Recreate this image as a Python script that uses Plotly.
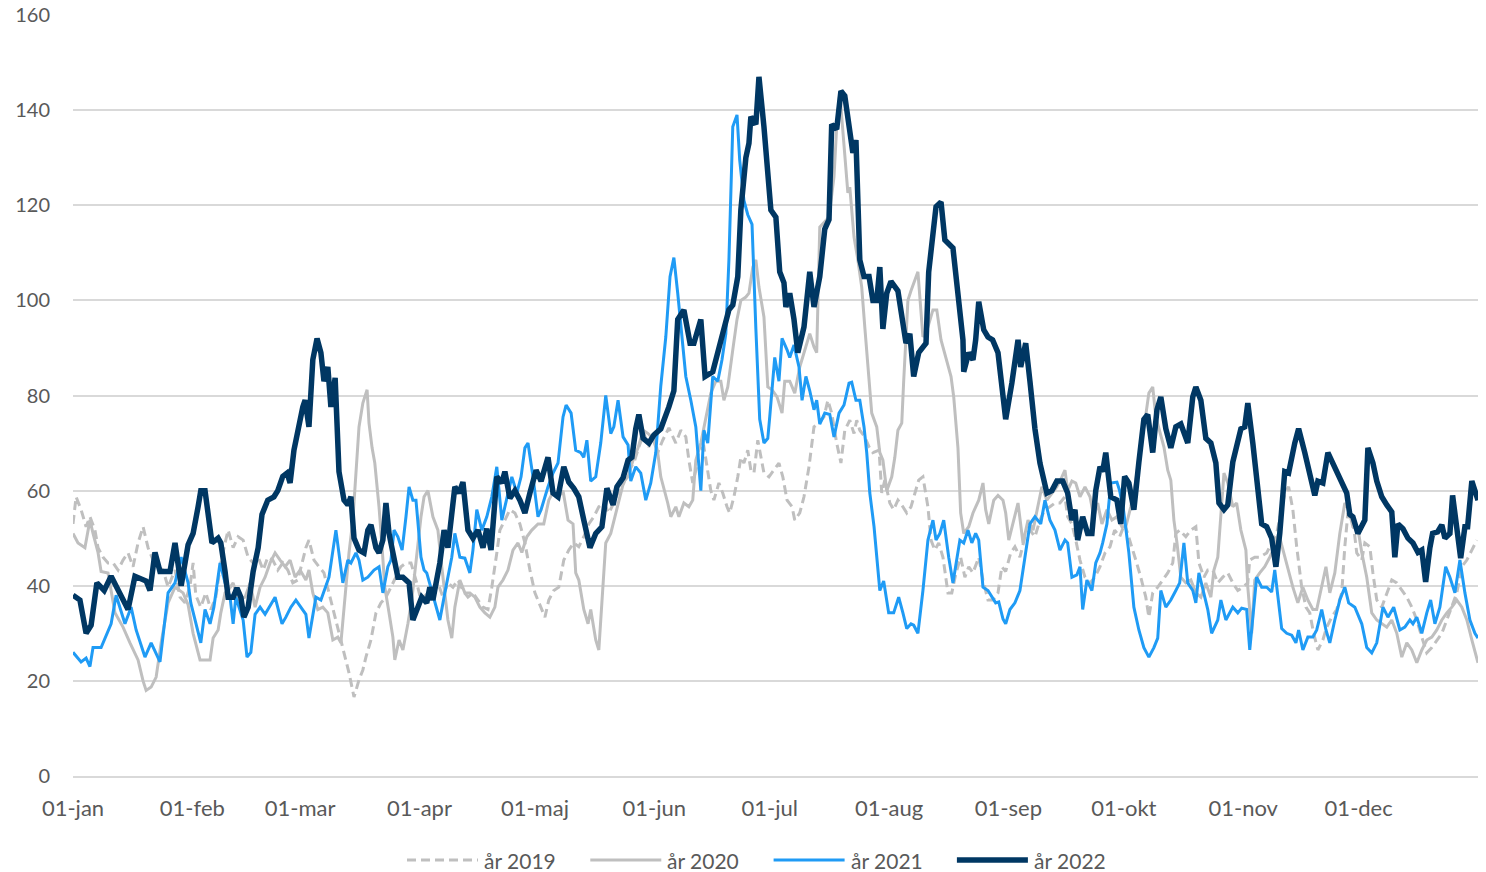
import plotly.graph_objects as go

# Day-of-year (0 = 1 January) and value pairs
SERIES_2019 = [(0,53),(0.8,58.7),(2.1,56),(3.4,52.4),(4.4,54.5),(5.7,51.7),(6.5,48),(7.8,46),(9.1,44.8),(10.4,44.8),(11.7,43.3),(13,45.4),(14.3,46.9),(15.6,44),(16.9,49),(18.2,52.4),(19.5,48),(20.8,45.4),(22.1,44),(23.4,43.3),(24.7,39.7),(26.5,43.3),(27.8,37.6),(29.1,36.4),(30.4,40),(31.2,44.8),(31.9,38),(33.2,35.5),(34.5,38.5),(35.8,35),(37.1,37.6),(38.4,44.8),(39.5,49),(40.3,51.7),(41.6,48),(42.9,50.3),(44.2,49.6),(45.5,46),(46.8,44.8),(48.1,46),(49.4,43.3),(50.6,46),(51.9,45.4),(53.2,43.3),(54.5,44.8),(55.8,43.3),(57.1,40.6),(58.4,41.2),(59.7,45.4),(60.5,48),(61.3,49.6),(62.6,45.4),(63.9,44),(65.2,42.7),(66.5,38.5),(67.8,34.3),(69.1,30),(70.4,25.9),(71.7,21.7),(73,16.6),(74.3,20.2),(75.3,22.3),(76.1,25),(77.4,28.6),(78.7,34.3),(80,36.4),(81.3,37.6),(82.6,39.7),(83.9,41.8),(85.2,44),(86.5,44.8),(87.8,44.8),(89.1,41.2),(90.4,37),(92.2,38.5),(93.5,39),(94.8,40.6),(96.1,37.6),(97.4,40.6),(98.7,39.7),(100,41.2),(101.3,39),(102.6,37.6),(103.9,38.5),(105.2,37),(106.5,35.5),(107.8,35),(108.8,39.7),(110.1,46.9),(110.9,51.7),(112.2,53.8),(113.5,56),(114.8,55.3),(116.1,53),(117.4,49),(118.7,43.3),(120,38.5),(121.6,35.5),(122.6,33.4),(123.6,37),(124.9,39),(126.2,39.7),(127.5,45.4),(128.8,47.5),(130.1,49),(131.4,48.2),(132.7,50.3),(134,53),(135.3,54.5),(136.6,56.6),(137.9,57.4),(139.2,55.3),(140.5,57.4),(141.8,60),(143.1,61.6),(144.4,64.3),(145.7,65.8),(147,69.2),(148.3,72),(149.6,69.2),(150.9,72),(151.9,68),(153.2,70.6),(154.8,73.2),(156.6,70),(157.9,72.7),(159.2,71.3),(160,66.4),(161,61.6),(161.8,64.3),(162.6,68.5),(163.9,69.2),(164.9,64.3),(165.7,60),(166.5,58),(167.8,61.6),(168.8,59.5),(169.9,56.6),(170.6,55.3),(171.7,58.7),(172.7,62.9),(173.5,67),(174.3,65.8),(175.3,68.5),(176.1,64.3),(176.9,63.7),(177.9,70.6),(178.7,67),(179.5,63.7),(180.8,62.9),(182.1,64.3),(183.4,65.8),(184.4,62.9),(185.5,58),(186.8,56.6),(187.5,53.8),(188.8,55.3),(189.9,58.7),(191.2,65),(192.5,73.4),(193.8,74.2),(195.1,75.5),(196.1,79),(197.1,76.3),(198.4,70),(199.5,65.8),(200.5,72.7),(201.8,74.8),(202.9,72),(203.6,74.8),(204.4,72.7),(205.7,71.3),(206.8,69.2),(207.8,68),(209.4,68.5),(210.1,59.5),(210.9,62.2),(212.2,57.4),(213.2,56),(214.3,58),(215.6,56.6),(216.6,55.3),(217.7,56.6),(218.7,59.5),(219.7,62.2),(220.8,62.9),(222.1,56.6),(222.9,49.6),(223.9,47.5),(224.9,49),(226,46),(227.3,38.5),(228.3,38.5),(229.4,42.7),(230.6,46),(231.7,41.8),(232.7,44),(233.8,42.7),(235.3,46),(236.4,41.2),(237.7,37),(239,37),(240.3,38.5),(241.3,44),(242.3,43),(243.6,46.9),(244.7,48.2),(246,46),(247.3,50.3),(248.6,51.7),(249.9,50.3),(251.2,53.8),(252.5,56),(253.8,56.6),(255.1,57.4),(256.4,57.4),(257.7,58.7),(258.4,54.5),(259.5,53),(260.5,49.6),(261.6,45.4),(262.9,41.8),(264.2,40.6),(265.5,41.8),(266.8,44),(268.1,46.9),(269.4,48.2),(270.6,51.7),(271.9,50.3),(273.2,53),(274.8,49),(276.1,45.4),(277.4,41.8),(278.7,37.6),(279.5,33.4),(280.5,38.5),(281.8,39.7),(283.1,41.2),(284.4,42.7),(285.7,44.8),(286.5,51),(287.5,51.7),(289.1,50.3),(290.4,51.7),(291.7,52.4),(292.5,44.8),(293.8,41.8),(294.8,43.3),(296.1,43.3),(297.4,40.6),(298.7,41.8),(300,42.7),(301.3,40.6),(302.6,39),(303.9,39.7),(305.2,40.6),(305.7,45.4),(307,46),(308.3,46),(310.1,46.9),(311.4,49),(312.7,51),(313.8,55.3),(314.8,59.5),(315.8,60.8),(316.9,56),(317.9,48.2),(319.2,39.7),(320.3,35.5),(321.3,34.3),(322.3,30),(323.4,26.5),(324.7,28.6),(325.7,31.3),(327,33.4),(328.3,35),(329.6,38.5),(330.4,48.2),(331.2,55.3),(332.5,53.8),(333.5,46.9),(334.8,45.4),(335.6,49),(336.9,48.2),(337.7,42.7),(338.7,37),(340,35.5),(341.3,38.5),(342.6,41.2),(343.9,40.6),(345.2,39),(346.5,37.6),(347.8,35.5),(349.1,32.8),(350.4,29.2),(351.7,25.9),(353,27),(354.3,28.6),(355.6,30),(356.9,32.8),(358.2,35.5),(359.5,38.5),(360.8,44),(362.1,45.4),(363.4,47.5),(364.7,49.6)]

SERIES_2020 = [(0,51),(1.3,49),(3.1,48),(4.4,53.8),(5.2,51),(6.5,47),(7.3,43),(9.1,42.7),(10.9,34.3),(13,31.3),(14.8,28),(16.9,24.4),(18.2,20),(19,18),(20.3,18.7),(21.6,20.8),(22.9,28),(24.7,36.4),(26.5,39.7),(28.6,38.5),(29.9,36),(31.2,30),(33,24.4),(34.5,24.4),(35.6,24.4),(36.4,29),(37.7,30.7),(38.4,34.3),(39.5,38.5),(40.3,39),(41.6,40.6),(42.9,37),(44.7,37.6),(46,40.6),(47.3,35.5),(48.6,39.7),(49.9,41.8),(51.2,44.8),(52.5,46.9),(53.8,45.4),(55.1,44),(56.4,45.4),(57.7,41.8),(59,43.3),(60.5,41.2),(61.3,43.3),(62.3,38.5),(63.6,35),(64.9,35.5),(66.2,34.3),(67.5,28.6),(68.8,29.2),(69.6,28),(70.9,39.7),(71.7,46.9),(72.7,53.8),(73.5,64.3),(74.3,73.4),(75.3,78.4),(76.4,81.2),(76.9,74.2),(77.7,69),(78.4,65.8),(79.5,56.6),(80.3,48),(81,39.7),(82.1,34.3),(83.1,29.2),(83.6,24.4),(84.7,28.6),(85.7,26.5),(87,32),(88.1,37.6),(89.1,45.4),(90.4,54.5),(91.2,58.7),(92.2,60),(93.5,54.5),(94.8,51.7),(95.8,44),(96.6,39),(97.4,32.8),(98.4,29),(99.2,35.5),(100.5,41.2),(101.8,38.5),(103.1,38.5),(104.4,37.6),(105.7,35.5),(107,34.3),(108.3,33.4),(109.6,35.5),(110.4,39.7),(111.7,41.2),(113,43.3),(114.3,47.5),(115.6,49),(116.6,47),(117.9,50.3),(119.2,51.7),(120.8,53),(122.3,53),(123.6,58),(124.9,60),(126.2,58.7),(127.3,60),(128.6,53.8),(129.9,53),(130.6,42.7),(131.4,41.2),(132.7,35),(133.8,32),(134.5,35),(135.8,28.6),(136.6,26.5),(137.7,39.7),(138.4,49),(139.7,51),(141,55.3),(142.3,60),(143.1,62),(144.2,62.9),(145.5,66.4),(146.8,69),(148.1,72.7),(149.4,72),(150.6,71),(151.9,68),(152.7,62.9),(154.5,57.4),(155.3,54.5),(156.6,56.6),(157.4,54.5),(158.7,57.4),(160,56.6),(161,58),(161.8,66.4),(163.1,70),(164.4,75),(165.7,80.5),(167,83),(168.3,83),(169.1,79),(170.1,81.8),(171.4,89.6),(172.5,96),(173.5,100),(174.8,100.7),(175.6,101.5),(176.6,107),(177.4,108.5),(178.2,102.8),(179.5,96.5),(180.5,81.8),(181.6,81.2),(182.9,79.7),(184.2,76.3),(184.9,83),(186.2,83),(187.5,80.5),(188.8,86),(190.1,89.6),(191.4,93),(192.5,90.2),(193.2,89),(194,115.4),(195.1,116.3),(196.4,117.5),(197.7,126),(198.4,136.5),(199.2,143.6),(200.5,129.5),(201.3,122.6),(201.8,123.8),(202.9,113.3),(203.9,108.5),(204.9,102.8),(205.7,94.4),(206.8,83),(207.5,76.3),(208.8,73.4),(209.6,68),(210.4,66.4),(211.4,60),(212.7,62.9),(213.5,67),(214.3,72.7),(215.3,74.2),(215.8,83),(216.9,100),(217.7,102),(218.4,103.6),(219.5,106),(220.8,92.3),(222.1,94.4),(223.4,98),(224.4,98),(225.5,91.7),(226.8,88),(228.1,84),(228.8,79.7),(229.9,69),(230.6,55.3),(231.4,51),(232.7,52.4),(233.8,55.3),(235.3,58),(236.4,61.6),(237.1,56),(237.9,53),(239.2,58),(240.3,59),(241.6,58),(242.3,55.3),(243.1,49.6),(244.2,53),(245.5,57.4),(246.8,49),(248.1,53.8),(249.4,51.7),(250.6,56.6),(251.7,60.8),(253,58),(254.3,59.5),(255.6,60.8),(256.9,62.9),(257.7,64.3),(258.4,60),(259.5,62),(260.5,61.6),(261.6,58.7),(262.9,60.8),(264.2,58.7),(265.2,54.5),(266.2,57.4),(267.3,53),(268.6,56),(269.9,53.8),(271.2,54.5),(272.5,52.4),(273.5,52.4),(274.8,56.6),(276.1,62),(277.4,70),(278.4,74.2),(279.5,80.5),(280.5,81.8),(281.3,75.5),(282.3,72.7),(283.4,69.2),(284.4,64.3),(285.2,62.2),(286,53.8),(286.8,49),(287.8,41.8),(289.1,40.6),(290.4,41.2),(291.7,38.5),(293,37.6),(294.3,40.6),(295.6,37.6),(296.4,43.3),(297.4,46),(298.2,55.3),(299,63.7),(300,61.6),(301.3,56.6),(302.3,57.4),(303.4,51.7),(304.7,47.5),(305.2,39.7),(306.2,30),(307,41.2),(308.3,42.7),(309.6,44),(310.9,46),(312.2,48.2),(313.2,51),(314.3,47.5),(315.6,44),(316.9,39.7),(318.2,36.4),(319.5,39.7),(320.8,37),(322.1,35),(323.1,35),(324.4,39.7),(325.5,44),(326.5,38.5),(327.8,42.7),(329.1,51),(330.4,57.4),(331.4,56),(332.5,52.4),(333.8,52),(334.8,47),(336.1,41.8),(337.4,34.3),(338.7,32.8),(340,32),(341.3,31.3),(342.6,32.8),(343.9,30),(345.2,25),(346.5,28),(347.8,26.5),(349.1,23.8),(350.4,26.5),(351.7,28.6),(353,29.2),(354.3,30.7),(355.6,32.8),(356.9,34.3),(358.2,35.5),(359.5,37),(360.8,35.5),(362.1,32.8),(363.4,28.6),(364.4,25.9),(365,23.8)]

SERIES_2021 = [(0,26),(2.1,24),(3.4,24.8),(4.4,23),(5.2,27),(7.3,27),(9.9,32),(11.2,38),(13.5,32),(15.1,35.5),(16.4,30.7),(18.7,25),(20.3,28),(22.6,24),(24.7,38.5),(26.5,40.6),(28.1,46),(29.9,40.6),(30.6,36.4),(31.9,32),(33.2,28),(34.3,35),(35.6,32),(36.6,35.5),(38.2,44.8),(39.5,40.6),(40.8,37.6),(41.6,32),(42.3,37.6),(44.2,32.8),(45.2,25),(46.2,26),(47.3,34),(48.6,35.5),(49.9,34),(52.5,37.6),(54.3,32),(55.3,33.4),(56.6,35.5),(57.9,37),(59.7,35),(60.5,34),(61.3,29),(63.1,37.6),(64.4,37),(66.5,41.8),(68.3,51.7),(70.1,40.6),(71.4,45.4),(72.2,44.8),(73.5,46.9),(74.3,45.4),(75.3,41.2),(76.6,41.8),(78.2,43.3),(79.5,44),(80.5,38.5),(81.8,44),(82.6,45.4),(83.4,51.7),(84.4,50.3),(85.5,47.5),(86.5,54.5),(87.3,60.8),(88.3,58),(89.1,58),(90.4,46),(91.2,43.3),(91.9,42.7),(93.2,39),(94.5,35),(95.3,32.8),(96.6,38.5),(98.4,46),(99.2,51),(100.5,46),(101.8,45.8),(103.1,42.7),(103.9,47.5),(104.9,56),(106.2,51.7),(107.5,54.5),(108.8,58.7),(110.1,65),(111.4,53.8),(112.7,58.7),(114,62.9),(115.3,59.5),(116.4,62.9),(117.4,69),(118.2,70),(119.5,62.9),(120.8,54.5),(121.6,56),(123.4,60.8),(124.7,63.7),(126,65.8),(127.3,75.5),(128.1,78),(129.4,76.3),(130.6,68.5),(131.9,68),(132.7,67),(133.5,70.6),(134.5,62),(135.8,62.9),(137.1,70),(138.4,80),(139.7,72),(140.5,73.4),(141.6,79),(142.9,71.3),(144.2,69.6),(144.9,62),(146.2,65),(147.5,63.7),(148.8,58),(150.1,61.6),(151.4,68),(152.7,82),(154,92.3),(155.1,105),(156.1,109),(157.1,101.5),(158.2,92.3),(159.2,84),(160.5,79),(161.8,73.4),(163.1,60),(163.9,72.7),(164.9,70),(166.2,84),(167.5,83),(168.6,87.5),(169.6,93),(170.4,108.5),(171.4,136.5),(172.5,139),(173.2,129.5),(174.3,121),(175.3,118),(176.4,116),(177.4,94),(178.4,75),(179.5,70),(180.5,71),(181,75.5),(182.3,88),(183.4,83),(184.2,92),(185.5,89.6),(186.2,88),(187.3,90.6),(188.6,86),(189.4,79),(190.4,84),(191.4,81),(192.5,77),(193.2,79),(194,74),(195.3,76.3),(196.6,76),(197.7,71.3),(199,76.3),(200.3,78),(201.6,82.6),(202.3,82.8),(203.4,79),(204.4,79),(205.5,73.4),(206.2,68),(207,59.5),(208.1,52.4),(208.8,46),(209.6,39),(210.6,41),(211.9,34.3),(213.2,34.3),(214.5,37.6),(215.6,34.3),(216.6,31),(217.7,32),(218.4,31.7),(219.5,30),(220.8,39),(222.1,49.6),(223.4,53.8),(224.2,49.6),(225.2,51),(226.2,53.8),(227.5,46),(228.6,40.6),(229.6,46),(230.4,49.6),(231.4,49),(232.5,51.7),(233.5,49),(234.5,51),(235.3,49.6),(236.4,39.7),(237.7,39),(238.7,37.6),(239.7,36.4),(240.5,36.6),(241.6,33),(242.3,32),(243.4,35),(244.7,36.4),(246,39),(247.3,46),(248.6,53),(249.9,54.5),(251.4,53),(252.5,58),(253.8,53.8),(255.1,51.7),(256.4,47.5),(257.7,49.6),(258.4,49),(259.5,41.8),(260.8,42.3),(261.6,44),(262.3,35),(263.4,41.2),(264.7,39),(265.7,44.8),(266.8,46.9),(267.5,49),(268.6,53),(269.6,61.6),(271.2,61.8),(271.9,60),(272.9,56),(274.3,46.9),(275.6,35.5),(276.9,30.7),(278.2,27),(279.5,25),(280.8,27),(281.8,29),(282.6,39),(283.9,35.5),(285.2,37),(286.5,39),(287.5,40.6),(288.6,49),(289.6,40.6),(290.9,39),(291.7,36.4),(292.5,42.7),(293.8,38.5),(294.8,35),(295.8,30),(297.4,32.8),(298.2,37),(299.5,32.8),(301.3,35.5),(302.6,34.3),(303.6,35.3),(304.9,35),(305.7,26.5),(307.5,41.8),(308.8,39.7),(310.1,39.7),(311.4,38.7),(312.2,43.3),(314,31),(315.3,30),(316.6,29.6),(317.7,28),(318.4,30.7),(319.5,26.5),(320.8,29.2),(322.1,29.2),(323.1,30.7),(324.4,35),(325.5,30.7),(326.5,28),(327.8,32.8),(329.1,37),(330.4,39.7),(331.4,36.4),(333,35.5),(334.8,32),(336.1,27),(337.4,25.9),(338.7,28),(340.3,35.5),(341.6,33.4),(343.1,35.5),(344.7,30.7),(346,31.3),(347.3,32.8),(348.1,32),(349.1,33.4),(350.4,30),(351.7,34.3),(352.7,37),(353.8,32),(355.1,35.5),(356.6,44),(357.7,41.8),(359,38.5),(360.3,45.4),(361.6,38.5),(362.9,32.8),(364.2,30),(365,29)]

SERIES_2022 = [(0,38),(1.8,37),(3.4,30),(4.7,31.7),(6.2,40.6),(8.1,39),(9.9,42),(11.7,39),(14.3,35),(16.1,42),(19,41),(20,39),(21.3,47),(22.6,43),(25.2,43),(26.5,49),(28.1,40),(29.9,48.6),(31.2,51),(32.5,56.6),(33.2,60),(34.3,60),(35.1,54.5),(36.1,49),(37.7,50),(38.4,49),(39.5,43),(40.3,37.6),(41.6,37.6),(42.6,39.5),(43.6,37.6),(44.4,33.4),(45.5,35.5),(46.8,43),(48.1,48),(49.1,55),(50.6,58),(52.2,58.7),(53.2,60),(54.5,63),(55.6,63.7),(56.4,61.6),(57.4,68.5),(58.4,72.7),(59.7,77.6),(60.3,79),(61.3,73.4),(62.3,87.5),(63.4,92),(64.4,89),(65.2,83),(66.2,86),(67,77.6),(68.1,83.7),(69.1,64),(70.4,58),(71.4,57),(72.2,58.7),(73,50),(74.3,47.5),(75.6,46.9),(76.6,51.7),(77.4,52.8),(78.7,48),(79.5,46.9),(80.5,49.6),(81.3,57.4),(82.1,51),(83.1,47.5),(84.4,41.8),(85.7,41.8),(87.3,40.6),(88.3,32.8),(89.9,36.4),(90.6,37.6),(91.9,36.4),(92.7,39.7),(93.5,37),(95.3,44.8),(96.4,51.7),(97.4,48),(99.2,60.8),(100.3,59.5),(101.3,61.8),(102.6,51.7),(103.9,50),(105.2,51.7),(106.5,48),(107.5,52),(108.6,47.5),(110.1,62.9),(111.4,61.6),(112.2,64),(113.5,58.4),(114.8,60),(116.1,58),(117.4,55.3),(118.7,59.5),(120.3,64.3),(121.6,62),(123.4,67),(124.7,59.5),(126,58.7),(127.5,65),(128.8,61.8),(130.1,60.5),(131.4,58.7),(132.7,53.8),(134.3,48),(135.8,51),(137.4,52.4),(138.7,60.5),(140.3,57),(141.3,60.8),(142.9,62.7),(144.2,66.4),(145.2,67),(146.2,73),(147,76),(148.1,71),(149.6,70),(150.9,71.7),(152.7,73),(154.8,77.6),(156.1,81),(157.1,96),(158.7,98),(160.3,91),(161.3,91),(163.1,96),(164.2,84),(166.2,85),(167.5,89),(168.8,93),(170.4,98),(171.4,99),(172.7,105),(173.5,119),(174.8,130),(175.6,133),(176.1,138.6),(177.4,137),(178.2,147),(179.5,136.5),(180.5,127),(181.3,119),(182.6,117.5),(183.6,106),(184.7,103.7),(185.2,98.6),(186.2,101.5),(187.3,96),(188.3,89),(189.9,94.4),(191.4,106),(192.5,98.6),(194,105),(195.3,115),(196.4,117),(197.1,137),(198.4,136),(199.5,144),(200.5,143),(201.8,136.5),(202.6,131),(203.4,133.7),(204.4,108.5),(205.5,105),(206.8,105),(207.8,100),(208.8,100),(209.6,107),(210.4,94),(211.4,101.5),(212.5,104),(214.3,102),(215.1,98),(216.4,91),(217.4,93),(218.4,84),(219.7,89),(221.6,91),(222.3,106),(224.2,119.7),(225.5,120.7),(226.5,112.7),(228.6,111),(229.9,102),(231.2,91.7),(231.4,85),(232.7,89),(233.8,87.5),(234.5,91.7),(235.3,99.7),(236.6,93.8),(237.7,92.3),(238.9,91.7),(240.3,89),(241.3,83),(242.3,75),(243.9,82.6),(245.5,91.7),(246.2,86),(247.5,91),(248.6,83),(249.9,73),(251.2,65.8),(253,59.5),(254.3,60),(255.6,62),(257.1,62),(258.4,59.5),(259.5,53.8),(260.3,56),(261,49.6),(262.3,54.5),(263.6,51),(264.7,51),(265.7,60),(266.8,65),(267.5,64),(268.3,68),(269.6,58.7),(271.2,58),(272.2,53),(273.2,63),(274.3,61.6),(275.6,56),(276.9,66),(278.2,75),(279.2,76),(280.5,68),(281.6,77),(282.6,79.7),(283.9,73),(285.2,69),(286.5,73.4),(287.8,74),(289.6,70),(290.9,79.7),(291.7,81.8),(293,79),(294.3,71),(295.6,70),(296.9,65.8),(297.7,57.4),(299,56),(300,57),(301.3,66),(302.3,69),(303.4,73),(304.4,73.4),(305.2,78.4),(306.5,70),(307.8,61.6),(308.8,53),(310.1,52.4),(311.4,50),(312.5,44),(313.5,51),(314.8,64),(315.8,63.7),(317.4,70),(318.4,73),(320,68),(321.3,63.7),(322.6,59),(323.4,62),(324.7,61.6),(326,68),(327.8,65),(329.6,61.6),(330.9,59.5),(331.7,55),(332.5,54.5),(333.8,51),(335.6,53.8),(336.4,69),(337.7,65.8),(338.7,62),(340,58.7),(341.3,57),(342.6,55.5),(343.4,46),(344.2,53),(345.5,52),(346.8,50),(348.1,49),(349.4,47),(350.4,47.5),(351.4,40.8),(352.5,48),(353.2,51),(354.5,51.3),(355.6,52.8),(356.4,50),(357.7,51),(358.4,59),(359.7,51.7),(360.5,45.8),(361.6,52.4),(362.3,52.4),(363.4,62),(364.2,60),(365,58)]

TICK_DAYS = [0, 31, 59, 90, 120, 151, 181, 212, 243, 273, 304, 334]
TICK_LABELS = ["01-jan", "01-feb", "01-mar", "01-apr", "01-maj", "01-jun",
               "01-jul", "01-aug", "01-sep", "01-okt", "01-nov", "01-dec"]
Y_TICKS = [0, 20, 40, 60, 80, 100, 120, 140, 160]

STYLES = [
    ("år 2019", SERIES_2019, dict(color="#bfbfbf", width=3, dash="9px,5px")),
    ("år 2020", SERIES_2020, dict(color="#bfbfbf", width=3)),
    ("år 2021", SERIES_2021, dict(color="#1f9bf5", width=3)),
    ("år 2022", SERIES_2022, dict(color="#003763", width=5.5)),
]

FONT = "Lato, 'Open Sans', sans-serif"
TEXT_COLOR = "#595959"

# plot area in pixels (figure is 1486 x 872)
W, H = 1486, 872
ML, MR, MT, MB = 73, 8, 15, 96
PW, PH = W - ML - MR, H - MT - MB

fig = go.Figure()
for name, pairs, line in STYLES:
    xs = [p[0] for p in pairs]
    ys = [p[1] for p in pairs]
    fig.add_trace(go.Scatter(x=xs, y=ys, mode="lines", name=name, line=line,
                             showlegend=False))

# Custom legend (long line samples as in the reference)
LEG_START_PX = 407      # left end of first sample line (pixels)
LEG_STEP_PX = 183.3     # distance between entries
LEG_LINE_PX = 71        # sample line length
LEG_Y_PX = 860          # vertical centre of legend row
leg_y = (H - MB - LEG_Y_PX) / PH
shapes, annotations = [], []
for i, (name, _, line) in enumerate(STYLES):
    x0 = LEG_START_PX + i * LEG_STEP_PX
    x1 = x0 + LEG_LINE_PX
    shapes.append(dict(type="line", xref="paper", yref="paper",
                       x0=(x0 - ML) / PW, x1=(x1 - ML) / PW, y0=leg_y, y1=leg_y,
                       line=dict(color=line["color"], width=line["width"],
                                 dash=line.get("dash", "solid"))))
    annotations.append(dict(xref="paper", yref="paper", x=(x1 + 4 - ML) / PW, y=leg_y,
                            text=name, showarrow=False, xanchor="left", yanchor="middle",
                            font=dict(family=FONT, size=21, color=TEXT_COLOR)))

fig.update_layout(
    width=W, height=H,
    margin=dict(l=ML, r=MR, t=MT, b=MB, autoexpand=False),
    paper_bgcolor="white", plot_bgcolor="white",
    font=dict(family=FONT, size=20, color=TEXT_COLOR),
    showlegend=False,
    shapes=shapes, annotations=annotations,
)
fig.update_xaxes(range=[0, 365], tickvals=TICK_DAYS, ticktext=TICK_LABELS,
                 showgrid=False, zeroline=False, showline=True, linecolor="#d9d9d9",
                 linewidth=1.5, ticks="", ticklabelstandoff=12, automargin=False,
                 tickfont=dict(size=22))
fig.update_yaxes(range=[0, 160], tickvals=Y_TICKS, showgrid=True, gridcolor="#d9d9d9",
                 gridwidth=1.5, zeroline=False, showline=False, ticks="",
                 ticklabelstandoff=22, automargin=False, tickfont=dict(size=20))

# remove the browser's default page margin so the figure fills the window exactly
fig.write_html("out.html", config={"displayModeBar": False},
               post_script="document.body.style.margin='0';document.body.style.overflow='hidden';")
